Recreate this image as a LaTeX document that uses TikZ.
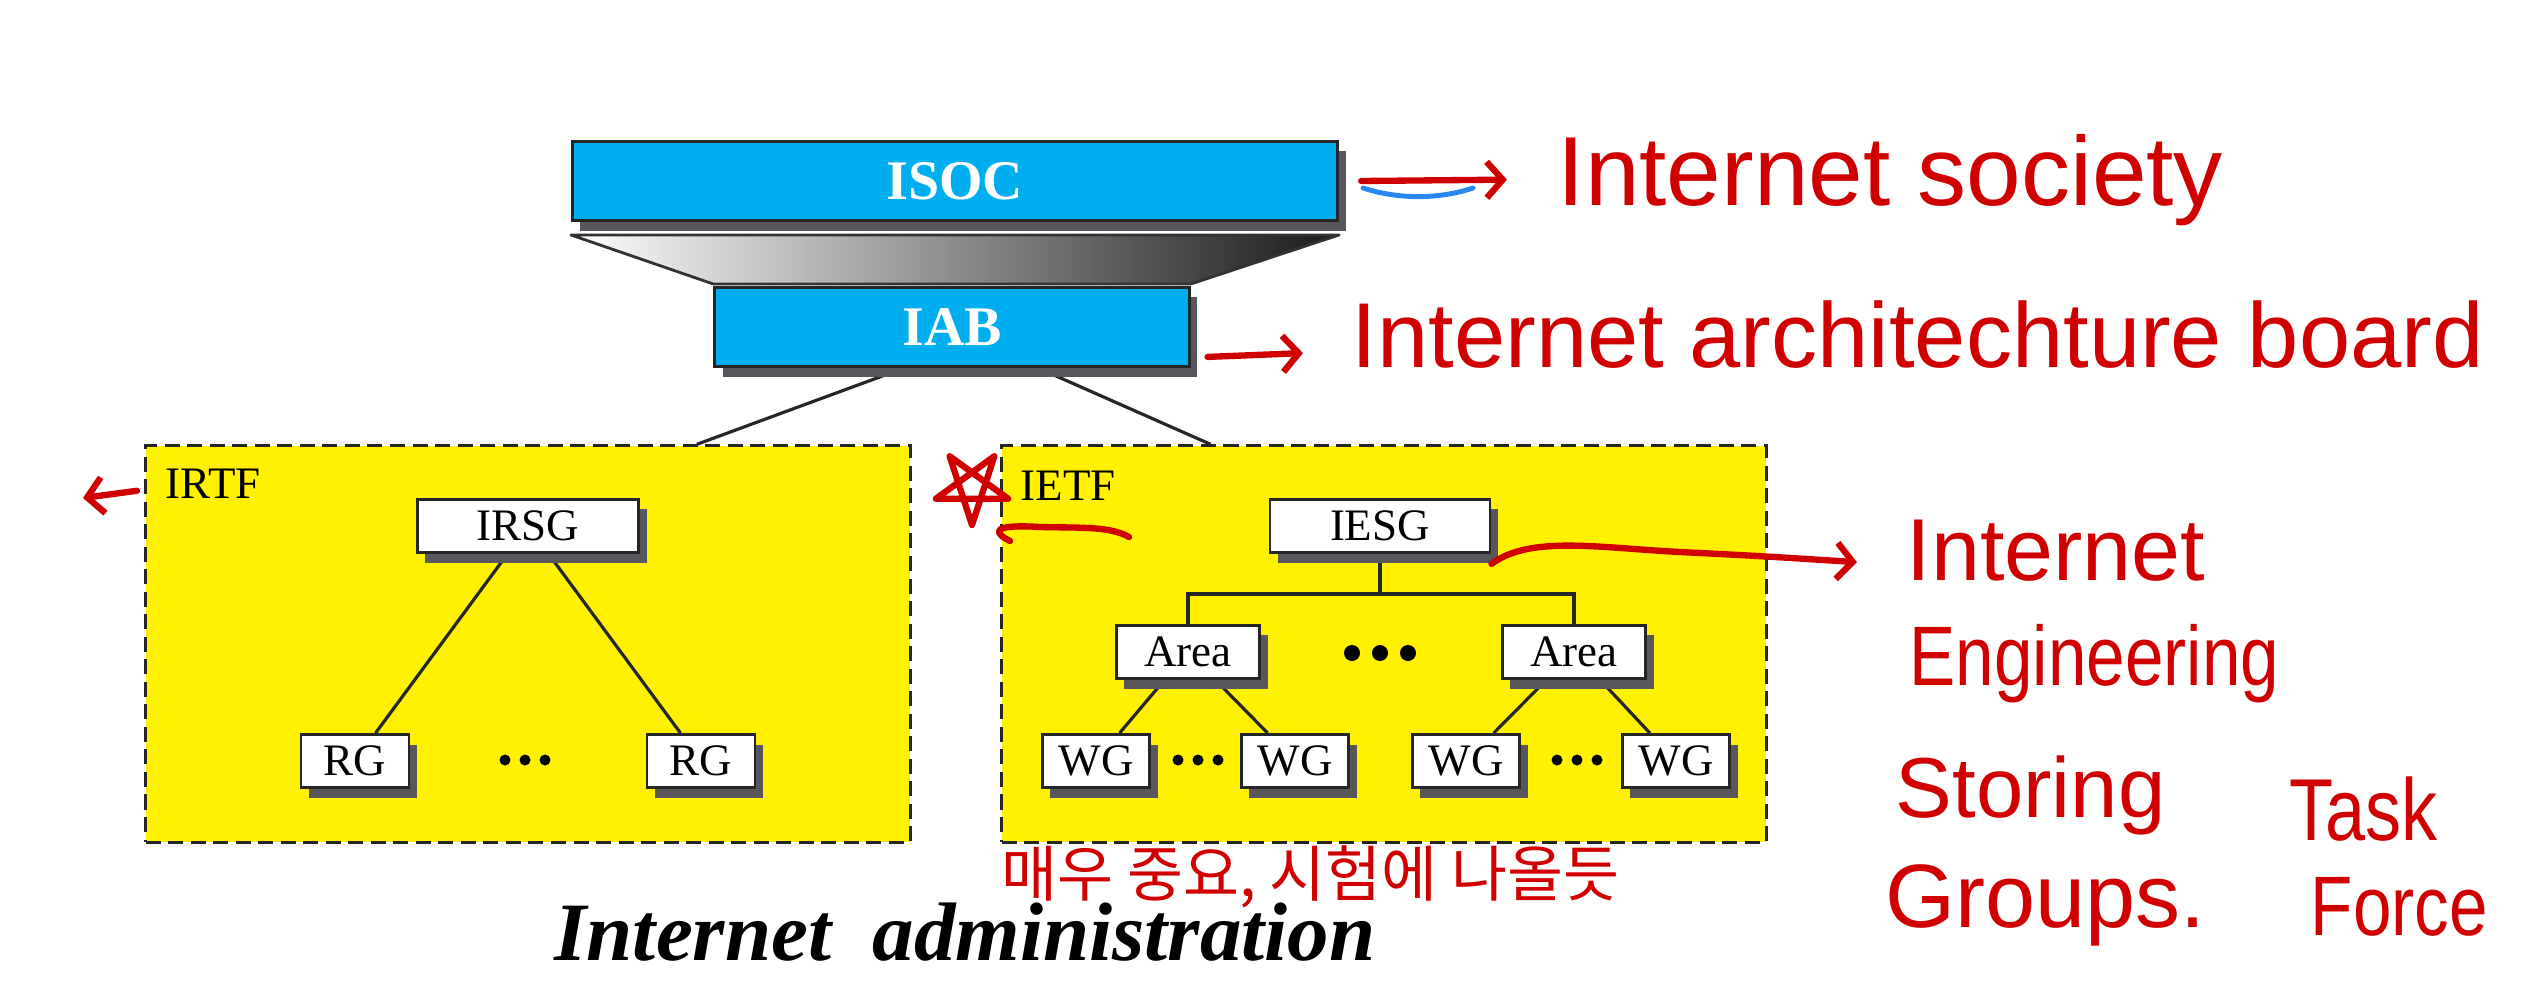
\documentclass[tikz,border=0pt]{standalone}
\usepackage{fontspec}
\setmainfont{Liberation Serif}
\newfontfamily\handfont{Liberation Sans}
\newfontfamily\krfont{Noto Sans CJK KR}
\usetikzlibrary{arrows.meta,calc,shadows}
\definecolor{isocblue}{RGB}{0,174,239}
\definecolor{groupyellow}{RGB}{255,241,0}
\definecolor{shadowgray}{RGB}{87,87,91}
\definecolor{inkred}{RGB}{208,0,0}
\definecolor{inkblue}{RGB}{40,135,240}
\newcommand\inksize[1]{\handfont\fontsize{#1}{#1}\selectfont}
\newcommand\narrowink[1]{\scalebox{0.82}[1]{#1}}
\pgfdeclarelayer{back}
\pgfdeclarelayer{links}
\pgfsetlayers{back,links,main}

\tikzset{
  shadowed/.style={drop shadow={shadow xshift=0.08cm, shadow yshift=-0.1cm, fill=shadowgray, opacity=1}},
  topbox/.style={shadowed, draw=black!85, line width=0.8pt, fill=isocblue, text=white, inner sep=0,
    minimum height=0.79cm, font=\bfseries\fontsize{15.9}{18}\selectfont},
  smallbox/.style={shadowed, draw=black!85, line width=0.8pt, fill=white, inner sep=0,
    minimum height=0.53cm, font=\fontsize{12.8}{15}\selectfont},
  taskforce/.style={draw=black!85, line width=0.9pt, dash pattern=on 0.15cm off 0.075cm,
    fill=groupyellow, minimum width=7.64cm, minimum height=3.96cm, inner sep=0},
  grouplabel/.style={anchor=base west, inner sep=0, font=\fontsize{12.8}{15}\selectfont},
  funnel/.style={left color=white, right color=black!90, draw=black!80, line width=0.8pt, line join=round},
  treeline/.style={draw=black!85, line width=0.9pt},
  pentext/.style={text=inkred, anchor=base west, inner sep=0},
  pentip/.style={inkred, line width=1.8pt, line cap=round, line join=round},
  penarrow/.style={pentip, -{Straight Barb[length=0.16cm, width=0.36cm]}}
}

\begin{document}
\begin{tikzpicture}[x=0.01cm, y=-0.01cm]
\useasboundingbox (0,0) rectangle (2533,1000);

% research and engineering groups
\begin{pgfonlayer}{back}
\node[taskforce] (irtf) at (528,644) {};
\node[taskforce] (ietf) at (1384,644) {};
\end{pgfonlayer}
\node[grouplabel] (irtflabel) at (165,498) {IRTF};
\node[grouplabel] (ietflabel) at (1020,500) {IETF};

% society and board
\node[topbox, minimum width=7.65cm] (isoc) at (955,181) {ISOC};
\node[topbox, minimum width=4.74cm] (iab) at (952,327) {IAB};
\shadedraw[funnel] ($(isoc.south west)+(0,13)$) -- ($(isoc.south east)+(0,13)$)
  -- ($(iab.north east)+(0,-2)$) -- ($(iab.north west)+(0,-2)$) -- cycle;

% IRTF
\node[smallbox, minimum width=2.21cm] (irsg) at (528,526) {IRSG};
\node[smallbox, minimum width=1.08cm] (rg1) at (355,761) {RG};
\node[smallbox, minimum width=1.08cm] (rg2) at (701,761) {RG};

% IETF
\node[smallbox, minimum width=2.2cm] (iesg) at (1380,526) {IESG};
\node[smallbox, minimum width=1.43cm] (area1) at (1188,652) {Area};
\node[smallbox, minimum width=1.43cm] (area2) at (1574,652) {Area};
\foreach \n/\x in {1/1096, 2/1295, 3/1466, 4/1676}
  \node[smallbox, minimum width=1.07cm] (wg\n) at (\x,761) {WG};

% dots
\foreach \x in {-28,0,28} \fill (1380+\x,653) circle[radius=0.08cm];
\foreach \c in {525,1198,1577} \foreach \x in {-20,0,20} \fill (\c+\x,760) circle[radius=0.055cm];

% links
\begin{pgfonlayer}{links}
\draw[treeline] ($(iab.south west)!0.4!(iab.south east)$) -- ($(irtf.north west)!0.72!(irtf.north east)$);
\draw[treeline] ($(iab.south west)!0.68!(iab.south east)$) -- ($(ietf.north west)!0.274!(ietf.north east)$);
\draw[treeline] (irsg) -- (rg1) (irsg) -- (rg2);
\draw[treeline] (iesg.south) -- ++(0,40) -| (area1.north);
\draw[treeline] (iesg.south) -- ++(0,40) -| (area2.north);
\draw[treeline] (area1) -- (wg1) (area1) -- (wg2) (area2) -- (wg3) (area2) -- (wg4);
\end{pgfonlayer}

\node[font=\bfseries\itshape\fontsize{23.6}{28}\selectfont, anchor=base] (title) at (965,960)
  {Internet\hspace{0.5em}administration};

% notes in red
\node[pentext, font=\inksize{27.9}] (soc) at (1557,205) {Internet society};
\node[pentext, font=\inksize{26.2}] (board) at (1351,367) {Internet architechture board};
\node[pentext, font=\inksize{25}] (ietfname) at (1906,580) {Internet};
\node[pentext, font=\inksize{24}] (eng) at (1909,685) {\narrowink{Engineering}};
\node[pentext, font=\inksize{24.2}] (steer) at (1895,817) {Storing};
\node[pentext, font=\inksize{25.6}] (groups) at (1885,927) {Groups.};
\node[pentext, font=\inksize{25}] (task) at (2289,840) {\narrowink{Task}};
\node[pentext, font=\inksize{24}] (force) at (2310,935) {\narrowink{Force}};
\node[pentext, font=\krfont\fontsize{17.3}{20}\selectfont] (note) at (1001,896) {매우 중요, 시험에 나올듯};

\draw[pentip, inkblue, line width=1.4pt] (1363,188) .. controls (1400,200) and (1440,199) .. (1473,188);
\draw[penarrow] ([xshift=0.22cm]isoc.east) -- ([xshift=-0.5cm]soc.west);
\draw[penarrow] ([xshift=0.17cm,yshift=0.11cm]iab.south east) -- ([xshift=-0.48cm,yshift=-0.19cm]board.west);
\draw[penarrow] ([yshift=-0.1cm]iesg.south east) .. controls (1530,535) and (1600,548) .. (1680,552)
  .. controls (1760,556) .. ([xshift=-0.49cm,yshift=-0.12cm]ietfname.west);

\coordinate (leftmark) at (83,498);
\draw[penarrow] ([xshift=-0.28cm,yshift=-0.075cm]irtflabel.west) -- (leftmark);

\coordinate (star) at (972,487);
\draw[pentip] (star) +(90:38) -- +(234:38) -- +(18:38) -- +(162:38) -- +(306:38) -- cycle;
\draw[pentip] (1010,541) .. controls (992,532) and (992,524) .. (1040,527)
  .. controls (1080,528) and (1110,526) .. (1129,537);

\end{tikzpicture}
\end{document}
